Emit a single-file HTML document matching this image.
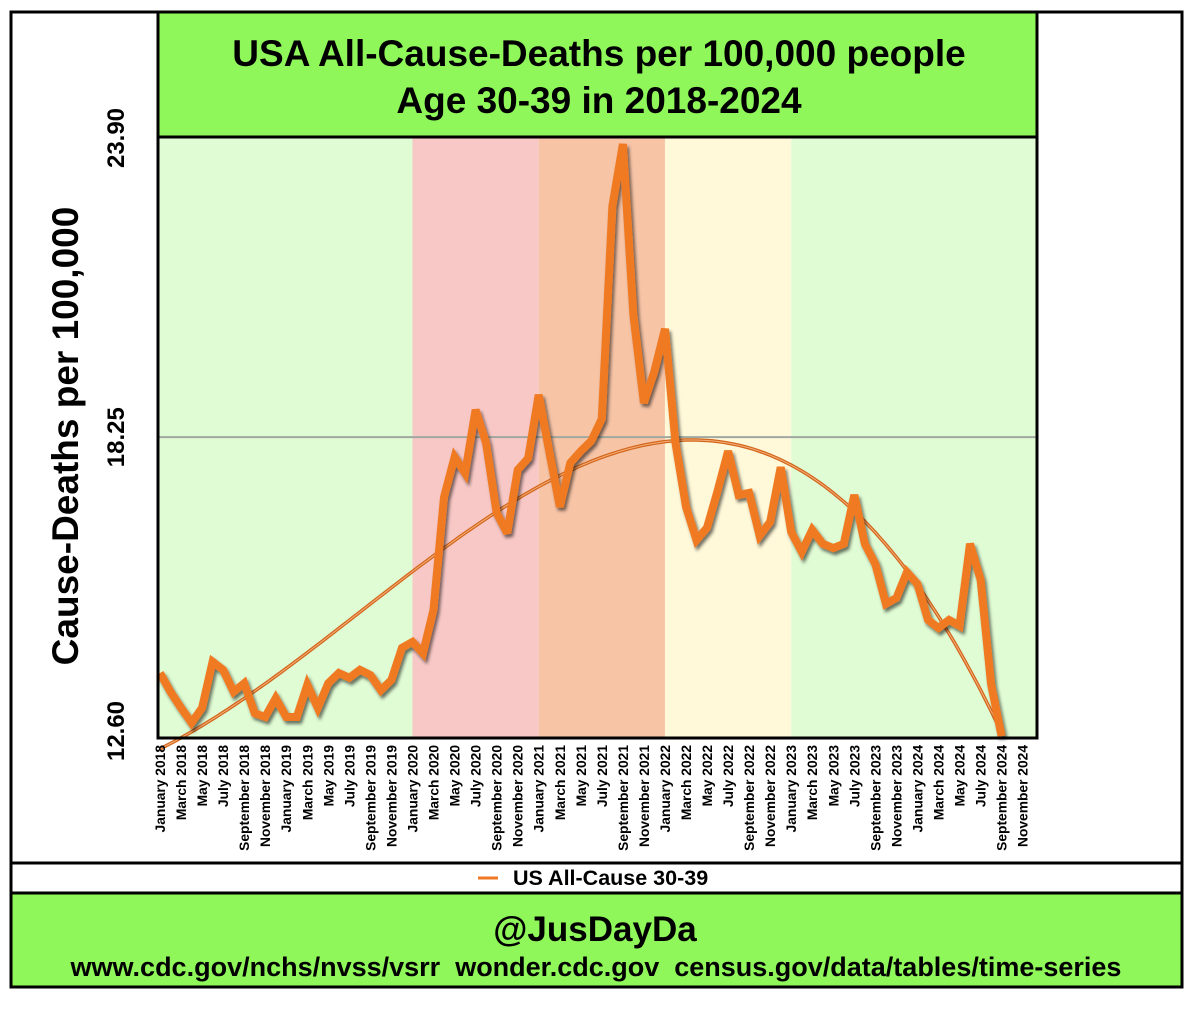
<!DOCTYPE html>
<html><head><meta charset="utf-8"><style>
body{margin:0;background:#fff;width:1200px;height:1007px;overflow:hidden;font-family:"Liberation Sans",Arial,sans-serif}
svg text{font-family:"Liberation Sans",Arial,sans-serif;font-weight:bold}
</style></head><body>
<svg id="chart" width="1200" height="1007" xmlns="http://www.w3.org/2000/svg">
<defs><filter id="sh" x="-5%" y="-5%" width="110%" height="110%"><feDropShadow dx="2" dy="3" stdDeviation="1.5" flood-color="#000" flood-opacity="0.55"/></filter></defs>
<rect x="11" y="12" width="1171" height="975" fill="#fff" stroke="#000" stroke-width="3"/>
<g id="bands"></g>
<line id="refline" stroke="#a0a8a0" stroke-width="2"/>
<g id="trend"></g>
<g id="series" filter="url(#sh)"></g>
<rect x="158" y="137" width="879" height="601" fill="none" stroke="#000" stroke-width="3"/>
<rect x="158" y="12" width="879" height="125" fill="#8ff75a" stroke="#000" stroke-width="3"/>
<text x="599" y="66" font-size="37" text-anchor="middle">USA All-Cause-Deaths per 100,000 people</text>
<text x="599" y="113" font-size="37" text-anchor="middle">Age 30-39 in 2018-2024</text>
<text transform="translate(78,436) rotate(-90)" font-size="37" text-anchor="middle">Cause-Deaths per 100,000</text>
<g id="yticks"></g>
<g id="xticks"></g>
<rect x="11" y="863" width="1171" height="30" fill="#fff" stroke="#000" stroke-width="3"/>
<line x1="478" y1="878" x2="498" y2="878" stroke="#f07a24" stroke-width="3"/>
<text x="513" y="885" font-size="21.5">US All-Cause 30-39</text>
<rect x="11" y="893" width="1171" height="94" fill="#8ff75a" stroke="#000" stroke-width="3"/>
<text x="595" y="941" font-size="35" text-anchor="middle">@JusDayDa</text>
<text x="596" y="976" font-size="27" text-anchor="middle" xml:space="preserve">www.cdc.gov/nchs/nvss/vsrr  wonder.cdc.gov  census.gov/data/tables/time-series</text>
</svg>
<script>
const months=["January","February","March","April","May","June","July","August","September","October","November","December"];
const values=[13.85,13.50,13.20,12.92,13.20,14.06,13.91,13.50,13.66,13.10,13.03,13.38,
13.03,13.03,13.63,13.20,13.66,13.85,13.76,13.91,13.81,13.53,13.72,14.32,
14.43,14.22,15.03,17.13,17.88,17.58,18.76,18.14,16.84,16.46,17.64,17.86,
19.04,17.99,16.95,17.77,17.99,18.18,18.59,22.56,23.72,20.53,18.89,19.48,
20.27,18.14,16.95,16.33,16.56,17.25,17.99,17.17,17.21,16.41,16.67,17.69,
16.48,16.11,16.52,16.26,16.18,16.26,17.17,16.26,15.88,15.14,15.25,15.73,
15.51,14.84,14.69,14.84,14.73,16.26,15.59,13.64,12.67];
const yTicks=[12.60,18.25,23.90];
const refValue=18.25;
const bandStarts=[0,24,36,48,60,84];
const bandColors=["#e0fcd4","#f8c8c6","#f7c4a6","#fff9d9","#e0fcd4"];
const nMonths=84;
const X0=160,DX=10.52,Y0=740,K=53.6,VMIN=12.6;
const xs=i=>X0+DX*i, ys=v=>Y0-(v-VMIN)*K;
const NS="http://www.w3.org/2000/svg";
function mk(tag,attrs,parent){const e=document.createElementNS(NS,tag);for(const k in attrs)e.setAttribute(k,attrs[k]);parent.appendChild(e);return e;}
const bands=document.getElementById('bands');
for(let b=0;b<bandColors.length;b++){
 const x1=b==0?158:xs(bandStarts[b]), x2=b==bandColors.length-1?1037:xs(bandStarts[b+1]);
 const r=mk('rect',{x:x1,y:137,width:x2-x1,height:601,fill:bandColors[b]},bands);
 
 
}
const rl=document.getElementById('refline');
rl.setAttribute('x1',158);rl.setAttribute('x2',1037);rl.setAttribute('y1',ys(refValue));rl.setAttribute('y2',ys(refValue));
(function(){
 const n=values.length,deg=3,A=[],B=[];
 for(let r=0;r<=deg;r++){A.push(new Array(deg+1).fill(0));B.push(0);}
 for(let i=0;i<n;i++){const t=i/n;for(let r=0;r<=deg;r++){B[r]+=values[i]*Math.pow(t,r);for(let c=0;c<=deg;c++)A[r][c]+=Math.pow(t,r+c);}}
 for(let c=0;c<=deg;c++){let p=c;for(let r=c+1;r<=deg;r++)if(Math.abs(A[r][c])>Math.abs(A[p][c]))p=r;[A[c],A[p]]=[A[p],A[c]];[B[c],B[p]]=[B[p],B[c]];
  for(let r=0;r<=deg;r++)if(r!=c){const f=A[r][c]/A[c][c];for(let k=c;k<=deg;k++)A[r][k]-=f*A[c][k];B[r]-=f*B[c];}}
 const co=B.map((b,i)=>b/A[i][i]);
 let d='';for(let i=0;i<=n-1;i+=0.5){const t=i/n;let v=0;for(let r=0;r<=deg;r++)v+=co[r]*Math.pow(t,r);d+=(i?'L':'M')+xs(i).toFixed(1)+','+ys(v).toFixed(1);}
 const g=document.getElementById('trend');
 const p1=mk('path',{d:d,fill:'none',stroke:'#d2661c',"stroke-width":3.5},g);
 
 
 const p2=mk('path',{d:d,fill:'none',stroke:'#f7b07a',"stroke-width":1},g);
 
 
})();
const sd=values.map((v,i)=>(i?'L':'M')+xs(i).toFixed(1)+','+ys(v).toFixed(1)).join('');
const sp=mk('path',{d:sd,fill:'none',stroke:'#f07a24',"stroke-width":8,"stroke-linejoin":"miter","stroke-miterlimit":3},document.getElementById('series'));


const yt=document.getElementById('yticks');
yTicks.forEach((v,j)=>{
 const yy=j==0?731:(j==2?138:ys(v));
 const t=mk('text',{transform:`translate(124,${yy}) rotate(-90)`,"font-size":24,"text-anchor":"middle"},yt);
 t.textContent=v.toFixed(2);
 
 
});
const xt=document.getElementById('xticks');
for(let i=0;i<nMonths;i+=2){
 const t=mk('text',{transform:`translate(${xs(i)+5},745) rotate(-90)`,"font-size":13.8,"text-anchor":"end"},xt);
 t.textContent=months[i%12]+' '+(2018+Math.floor(i/12));
 
 
}
</script>
</body></html>
